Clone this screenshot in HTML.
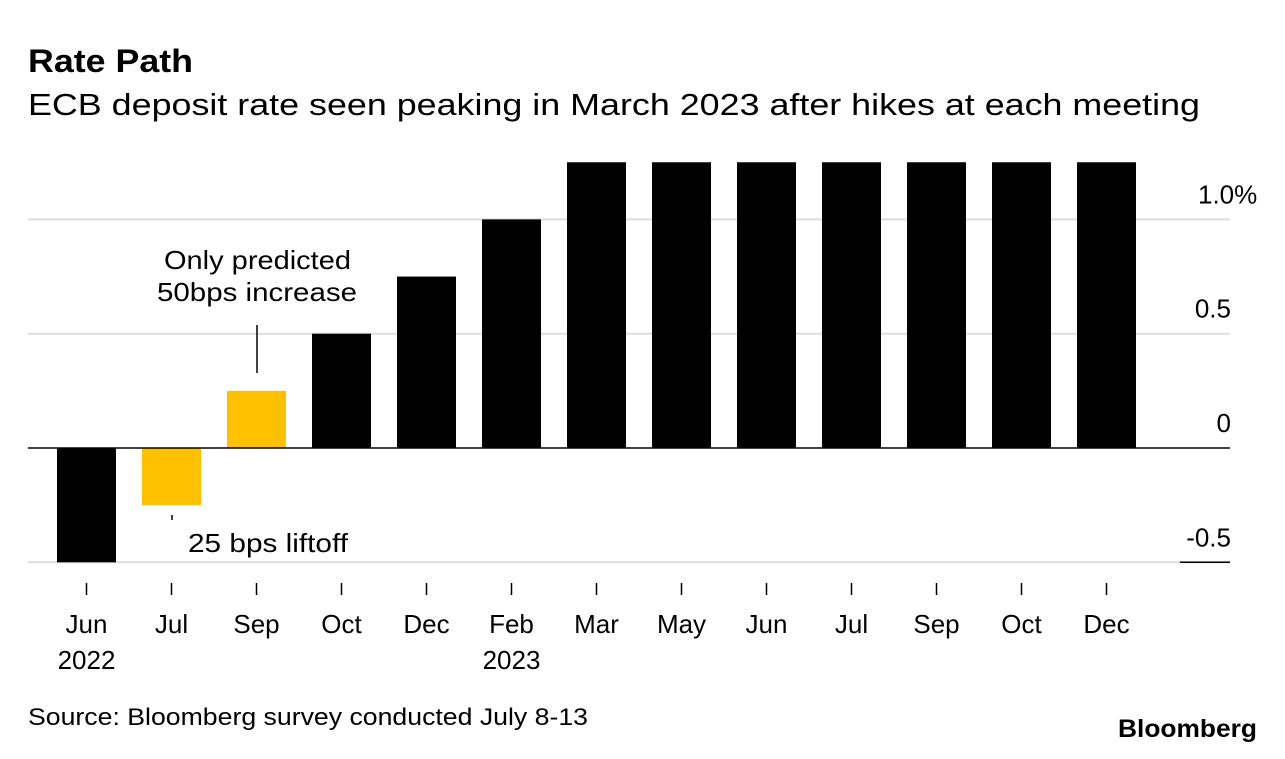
<!DOCTYPE html>
<html><head><meta charset="utf-8"><style>
body{margin:0;background:#fff;font-family:"Liberation Sans",Arial,sans-serif;}
svg text{font-family:"Liberation Sans",Arial,sans-serif;}
</style></head><body>
<svg id="c" width="1285" height="754">
<text x="28" y="72" font-size="32" font-weight="bold" fill="#000" textLength="165" lengthAdjust="spacingAndGlyphs">Rate Path</text>
<text x="28" y="115" font-size="31" fill="#000" textLength="1172" lengthAdjust="spacingAndGlyphs">ECB deposit rate seen peaking in March 2023 after hikes at each meeting</text>
<g id="grid"></g><g id="bars"></g><g id="axis"></g>
<text x="164" y="269" font-size="26" fill="#000" textLength="187" lengthAdjust="spacingAndGlyphs">Only predicted</text>
<text x="157" y="301" font-size="26" fill="#000" textLength="200" lengthAdjust="spacingAndGlyphs">50bps increase</text>
<line x1="257" y1="325" x2="257" y2="373" stroke="#000" stroke-width="1.5"/>
<text x="188" y="552" font-size="26" fill="#000" textLength="160" lengthAdjust="spacingAndGlyphs">25 bps liftoff</text>
<line x1="172" y1="515" x2="172" y2="520" stroke="#000" stroke-width="1.5"/>
<text x="28" y="725" font-size="24" fill="#000" textLength="560" lengthAdjust="spacingAndGlyphs">Source: Bloomberg survey conducted July 8-13</text>
<text x="1118" y="737" font-size="25" font-weight="bold" fill="#000" textLength="139" lengthAdjust="spacingAndGlyphs">Bloomberg</text>
</svg>
<script>
const categories=["Jun","Jul","Sep","Oct","Dec","Feb","Mar","May","Jun","Jul","Sep","Oct","Dec"];
const years=["2022","","","","","2023","","","","","","",""];
const values=[-0.5,-0.25,0.25,0.5,0.75,1.0,1.25,1.25,1.25,1.25,1.25,1.25,1.25];
const highlight=[false,true,true,false,false,false,false,false,false,false,false,false,false];
const ticks=[-0.5,0,0.5,1.0];
const tickLabels=["-0.5","0","0.5","1.0%"];
const NS="http://www.w3.org/2000/svg";
const y0=448,ppu=228.6;
function y(v){return y0-v*ppu;}
function x(i){return 86.5+i*85;}
function mk(t,a,p){const e=document.createElementNS(NS,t);for(const k in a)e.setAttribute(k,a[k]);p.appendChild(e);return e;}
const g=document.getElementById('grid'),b=document.getElementById('bars'),ax=document.getElementById('axis');
ticks.forEach((t,i)=>{
 const l=mk('line',{x1:28,x2:1230,y1:y(t),y2:y(t),stroke:t===0?'#000':'#ddd','stroke-width':t===0?1.5:2},t===0?ax:g);
 
 
 if(t<0){const d=mk('line',{x1:1180,x2:1230,y1:y(t),y2:y(t),stroke:'#000','stroke-width':1.5},ax);
  
  }
 const pct=tickLabels[i].endsWith('%');
 const tx=mk('text',{x:pct?1198:1231,y:y(t)-16,'font-size':26,'text-anchor':pct?'start':'end',fill:'#000'},ax);
 tx.textContent=tickLabels[i];
 
 
});
values.forEach((v,i)=>{
 const r=mk('rect',{x:x(i)-29.5,width:59,y:Math.min(y(v),y0),height:Math.abs(y(v)-y0),fill:highlight[i]?'#ffc000':'#000'},b);
 
 
 const tk=mk('line',{x1:x(i),x2:x(i),y1:583,y2:595,stroke:'#000','stroke-width':1.5},ax);
 
 
 const tl=mk('text',{x:x(i),y:633,'font-size':26,'text-anchor':'middle',fill:'#000'},ax);
 tl.textContent=categories[i];
 
 
 if(years[i]){const yl=mk('text',{x:x(i),y:669,'font-size':26,'text-anchor':'middle',fill:'#000'},ax);
  yl.textContent=years[i];
  
  }
});
</script>
</body></html>
